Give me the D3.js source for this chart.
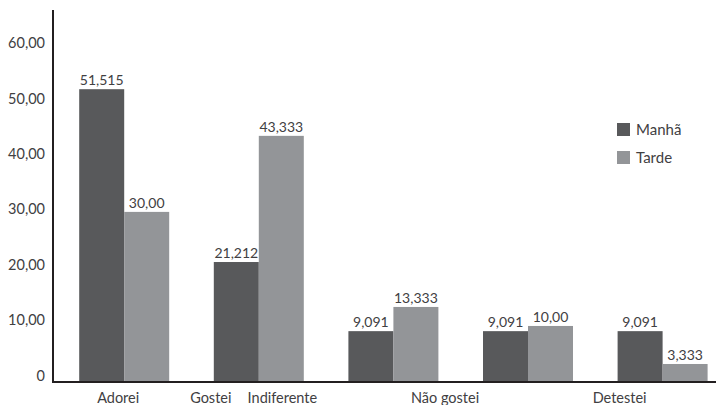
<!DOCTYPE html>
<html>
<head>
<meta charset="utf-8">
<script src="https://cdn.jsdelivr.net/npm/d3@7"></script>
<style>
  html, body { margin: 0; padding: 0; background: #fff; }
  svg { display: block; }
  text { font-family: Lato, "Open Sans", sans-serif; fill: #414042; }
</style>
</head>
<body>
<svg id="chart" width="716" height="405"></svg>
<script>
const categories = ["Adorei", "Gostei", "Indiferente", "Não gostei", "Detestei"];
const seriesNames = ["Manhã", "Tarde"];
const manha = [51.515, 21.212, 9.091, 9.091, 9.091];
const tarde = [30.00, 43.333, 13.333, 10.00, 3.333];
const manhaLabels = ["51,515", "21,212", "9,091", "9,091", "9,091"];
const tardeLabels = ["30,00", "43,333", "13,333", "10,00", "3,333"];
const yTicks = [0, 10, 20, 30, 40, 50, 60];
const yTickLabels = ["0", "10,00", "20,00", "30,00", "40,00", "50,00", "60,00"];

const colors = ["#58595b", "#939598"];

const svg = d3.select("#chart");
const W = 716, H = 405;
const axisX = 53, baseY = 382, topY = 10;

const x = d3.scaleBand().domain(categories).range([56.9, 729.9]).paddingInner(0.3314).paddingOuter(0.1657);
const xs = d3.scaleBand().domain(seriesNames).range([0, x.bandwidth()]).padding(0);
const y = d3.scaleLinear().domain([0, 65.4]).range([383, 10]);
// tick labels in the source sit on a slightly compressed scale
const yAxisScale = d3.scaleLinear().domain([0, 60]).range([375.5, 43]);

const data = categories.map((c, i) => ({
  cat: c,
  vals: [
    { s: seriesNames[0], v: manha[i], lbl: manhaLabels[i] },
    { s: seriesNames[1], v: tarde[i], lbl: tardeLabels[i] }
  ]
}));

// bars
const g = svg.append("g");
const groups = g.selectAll("g.grp").data(data).enter().append("g")
  .attr("transform", d => `translate(${x(d.cat)},0)`);
groups.selectAll("rect").data(d => d.vals).enter().append("rect")
  .attr("x", d => xs(d.s))
  .attr("width", xs.bandwidth())
  .attr("y", d => y(d.v))
  .attr("height", d => y(0) - y(d.v))
  .attr("fill", (d, i) => colors[i]);
groups.selectAll("text.val").data(d => d.vals).enter().append("text")
  .attr("class", "val")
  .attr("x", d => xs(d.s) + xs.bandwidth() / 2)
  .attr("y", d => y(d.v) - 4)
  .attr("text-anchor", "middle")
  .attr("font-size", 14)
  .text(d => d.lbl);

// y axis
const yAxis = d3.axisLeft(yAxisScale).tickValues(yTicks).tickSize(0).tickPadding(8)
  .tickFormat((d, i) => yTickLabels[i]);
const ya = svg.append("g").attr("transform", `translate(${axisX},0)`).call(yAxis);
ya.select(".domain").remove();
ya.selectAll("text").attr("font-size", 14.5).attr("font-family", "Lato, sans-serif").attr("fill", "#414042");

// axis lines
svg.append("line").attr("x1", axisX).attr("x2", axisX).attr("y1", topY).attr("y2", baseY + 1)
  .attr("stroke", "#231f20").attr("stroke-width", 2);
svg.append("line").attr("x1", axisX - 1).attr("x2", W).attr("y1", baseY).attr("y2", baseY)
  .attr("stroke", "#231f20").attr("stroke-width", 2);

// x labels (offsets relative to group centers, as in the source layout)
const labelShift = [-6, -48, -111, -83, -43];
svg.selectAll("text.xl").data(categories).enter().append("text")
  .attr("class", "xl")
  .attr("x", (d, i) => x(d) + x.bandwidth() / 2 + labelShift[i])
  .attr("y", 403)
  .attr("text-anchor", "middle")
  .attr("font-size", 14.5)
  .text(d => d);

// legend
const leg = svg.append("g").attr("transform", "translate(617,123)");
seriesNames.forEach((s, i) => {
  const row = leg.append("g").attr("transform", `translate(0,${i * 28})`);
  row.append("rect").attr("width", 13).attr("height", 13).attr("fill", colors[i]);
  row.append("text").attr("x", 19).attr("y", 12).attr("font-size", 15).text(s);
});
</script>
</body>
</html>
